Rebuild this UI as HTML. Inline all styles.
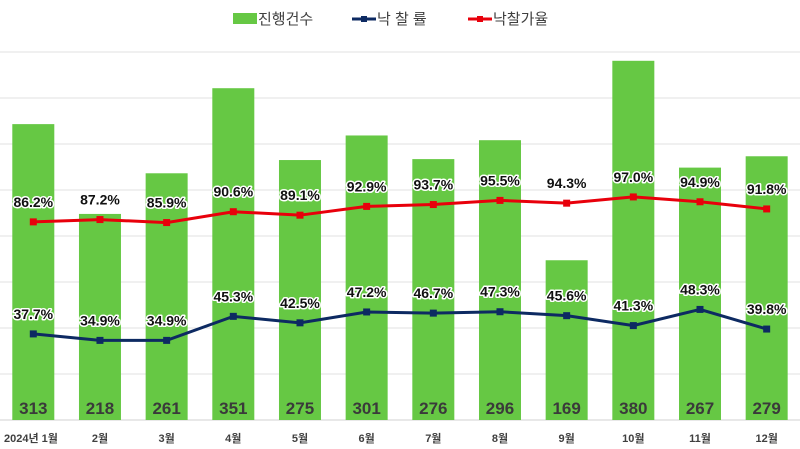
<!DOCTYPE html>
<html><head><meta charset="utf-8"><style>
html,body{margin:0;padding:0;background:#fff;}
svg{display:block;font-family:"Liberation Sans","Noto Sans CJK KR",sans-serif;}
</style></head><body>
<svg id="chart" width="800" height="449" viewBox="0 0 800 449">
<g id="legend">
  <g><rect x="233" y="13" width="24" height="11" fill="#66c844"/><text x="258" y="24" font-size="15" fill="#404040">진행건수</text></g>
  <g><line x1="352" y1="19" x2="376" y2="19" stroke="#0d2a62" stroke-width="3"/><rect x="361" y="16" width="6" height="6" fill="#0d2a62"/><text x="377" y="24" font-size="15" fill="#404040">낙 찰 률</text></g>
  <g><line x1="468" y1="19" x2="492" y2="19" stroke="#e8000b" stroke-width="3"/><rect x="477" y="16" width="6" height="6" fill="#e8000b"/><text x="493" y="24" font-size="15" fill="#404040">낙찰가율</text></g>
</g>
<g id="grid"></g>
<g id="bars"></g>
<g id="lines"></g>
<g id="xaxis"></g>
</svg>
<script>
const categories=["2024년 1월","2월","3월","4월","5월","6월","7월","8월","9월","10월","11월","12월"];
const counts=[313,218,261,351,275,301,276,296,169,380,267,279];
const winRate=[37.7,34.9,34.9,45.3,42.5,47.2,46.7,47.3,45.6,41.3,48.3,39.8];
const priceRate=[86.2,87.2,85.9,90.6,89.1,92.9,93.7,95.5,94.3,97.0,94.9,91.8];
const NS="http://www.w3.org/2000/svg";
const baseY=420, topY=52, countMax=389.3;
const yCount=v=>baseY-v/countMax*(baseY-topY);
const yRate=v=>421-v*2.31;
const xC=i=>33.3+i*66.67;
function mk(tag,attrs,parent){const e=document.createElementNS(NS,tag);for(const k in attrs)e.setAttribute(k,attrs[k]);parent.appendChild(e);return e;}
const grid=document.getElementById('grid'),bars=document.getElementById('bars'),lines=document.getElementById('lines'),xaxis=document.getElementById('xaxis');
for(let g=0;g<=8;g++){const y=topY+g*(baseY-topY)/8;
  const l=mk('line',{x1:0,x2:800,y1:y,y2:y,stroke:g==8?'#d0d0d0':'#e2e2e2','stroke-width':1},grid);
  
  }
counts.forEach((v,i)=>{
  const r=mk('rect',{x:xC(i)-21,y:yCount(v),width:42,height:baseY-yCount(v),fill:'#66c844'},bars);
  
  
  const t=mk('text',{x:xC(i),y:414,'text-anchor':'middle','font-size':17,'font-weight':'bold',fill:'#3a3a3a'},bars);
  t.textContent=v;
  
  
  const xl=mk('text',{x:i==0?4:xC(i),y:442,'text-anchor':i==0?'start':'middle','font-size':11,'font-weight':'bold',fill:'#404040'},xaxis);
  xl.textContent=categories[i];
  
  
});
function series(vals,color,name){
  const pts=vals.map((v,i)=>xC(i)+','+yRate(v)).join(' ');
  const pl=mk('polyline',{points:pts,fill:'none',stroke:color,'stroke-width':3},lines);
  
  
  vals.forEach((v,i)=>{
    const m=mk('rect',{x:xC(i)-3.5,y:yRate(v)-3.5,width:7,height:7,fill:color},lines);
    
    
    const t=mk('text',{x:xC(i),y:yRate(v)-15,'text-anchor':'middle','font-size':14,'font-weight':'bold',fill:'#111',stroke:'#fff','stroke-width':3,'paint-order':'stroke','stroke-linejoin':'round'},lines);
    t.textContent=v.toFixed(1)+'%';
    
    
  });
}
series(priceRate,'#e8000b','price-rate');
series(winRate,'#0d2a62','win-rate');
</script>
</body></html>
